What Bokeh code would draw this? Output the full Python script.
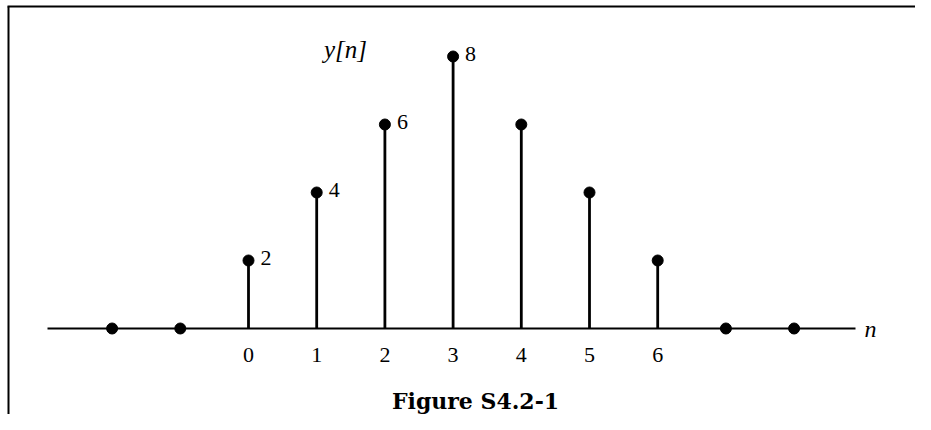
from bokeh.plotting import figure
from bokeh.models import Range1d, ColumnDataSource
from bokeh.core.properties import value
from bokeh.embed import file_html
from bokeh.resources import INLINE

# data
n_vals = [-2, -1, 0, 1, 2, 3, 4, 5, 6, 7, 8]
y_vals = [0, 0, 2, 4, 6, 8, 6, 4, 2, 0, 0]
tick_labels = ["0", "1", "2", "3", "4", "5", "6"]
tick_pos = [0, 1, 2, 3, 4, 5, 6]
labelled_n = [0, 1, 2, 3]
labelled_y = [2, 4, 6, 8]

W, H = 915, 414
px_per_x = 68.2
px_per_y = 34.0
x0 = -248 / px_per_x
x1 = x0 + W / px_per_x
y1 = 328 / px_per_y
y0 = y1 - H / px_per_y

def sx(px):
    return x0 + px / px_per_x

def sy(py):
    return y1 - py / px_per_y

p = figure(width=W, height=H, output_backend="svg", toolbar_location=None,
           x_range=Range1d(x0, x1), y_range=Range1d(y0, y1),
           min_border=0, min_border_left=0, min_border_right=0,
           min_border_top=0, min_border_bottom=0)
p.axis.visible = False
p.grid.visible = False
p.outline_line_color = None
p.background_fill_color = "white"
p.border_fill_color = "white"

# frame lines (top and left)
p.segment(x0=[sx(7), sx(8)], y0=[sy(6), sy(6)],
          x1=[x1, sx(8)], y1=[sy(6), y0],
          line_color="black", line_width=2)

# horizontal axis
ax_start = sx(47)
ax_end = sx(855)
p.segment(x0=[ax_start], y0=[0], x1=[ax_end], y1=[0], line_color="black", line_width=2.2)

src = ColumnDataSource(dict(n=n_vals, y=y_vals, base=[0] * len(n_vals)))
p.segment(x0="n", y0="base", x1="n", y1="y", source=src, line_color="black", line_width=2.8)
p.scatter(x="n", y="y", source=src, size=11, fill_color="black", line_color="black")

# value labels
p.text(x=labelled_n, y=labelled_y, text=[str(v) for v in labelled_y],
       x_offset=12, y_offset=-3, text_font=value("Liberation Serif"),
       text_font_size="22px", text_baseline="middle", text_align="left", text_color="black")

# tick labels
p.text(x=tick_pos, y=[0] * len(tick_pos), text=tick_labels, y_offset=26,
       text_font=value("Liberation Serif"), text_font_size="22px",
       text_baseline="middle", text_align="center", text_color="black")

# axis name n
p.text(x=[ax_end], y=[0], text=["n"], x_offset=9, text_font=value("Liberation Serif"),
       text_font_style="italic", text_font_size="24px", text_baseline="middle",
       text_align="left", text_color="black")

# y[n] label
p.text(x=[sx(345)], y=[sy(49)], text=["y[n]"],
       text_font=value("Liberation Serif"), text_font_style="italic", text_font_size="25px",
       text_baseline="middle", text_align="center", text_color="black")

# caption
p.text(x=[sx(475)], y=[sy(400)], text=["Figure S4.2-1"],
       text_font=value("DejaVu Serif"), text_font_style="bold", text_font_size="22px",
       text_baseline="middle", text_align="center", text_color="black")

open("out.html", "w").write(file_html(p, INLINE))
